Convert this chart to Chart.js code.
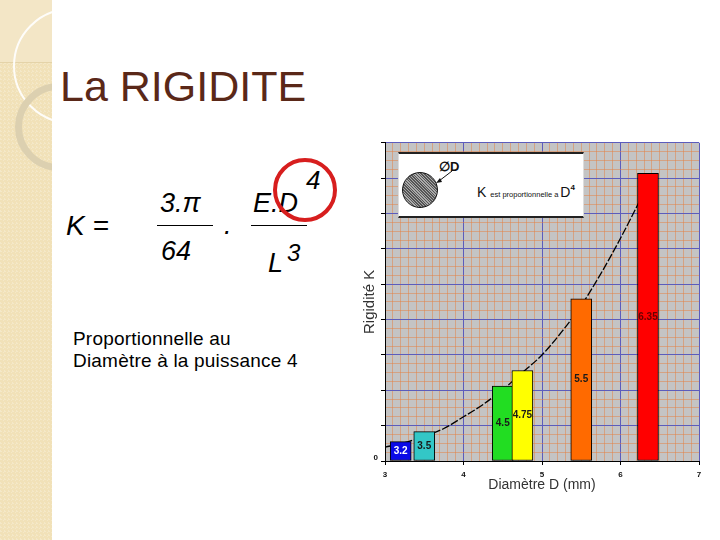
<!DOCTYPE html>
<html>
<head>
<meta charset="utf-8">
<script src="https://cdn.jsdelivr.net/npm/chart.js@4.4.1/dist/chart.umd.min.js"></script>
<style>
    html, body { margin: 0; padding: 0; }
    body { width: 720px; height: 540px; position: relative; overflow: hidden; background: #fff; font-family: "Liberation Sans", Arial, sans-serif; }
    .stripe { position: absolute; left: 0; top: 0; width: 52px; height: 540px; overflow: hidden;
        background-color: #f1e1b8;
        background-image: linear-gradient(45deg, rgba(255,255,255,.22) 25%, transparent 25%, transparent 75%, rgba(255,255,255,.22) 75%);
        background-size: 4px 4px; }
    .stripe .corner { position: absolute; left: 0; top: 0; width: 52px; height: 62px; background: #f3e6c6; border-bottom: 1px solid #e4d3a8; }
    .stripe .ring1 { position: absolute; left: 13px; top: 8px; width: 116px; height: 116px; border-radius: 50%; border: 2px solid rgba(255,255,255,.9); box-sizing: border-box; }
    .stripe .ring2 { position: absolute; left: 15px; top: 83px; width: 88px; height: 88px; border-radius: 50%; border: 7px solid #dcd0b0; box-sizing: border-box; }
    .abs { position: absolute; line-height: 1; white-space: nowrap; }
    .title { left: 60px; top: 65px; font-size: 43px; color: #5a2818; }
    .f { font-style: italic; font-size: 27px; color: #000; }
    .bar { position: absolute; height: 1px; background: #000; }
    .circle { position: absolute; left: 273px; top: 158px; width: 64px; height: 64px; border: 4px solid #d71e1e; border-radius: 50%; box-sizing: border-box; }
    .para { left: 73px; font-size: 19px; color: #000; letter-spacing: 0.2px; }
    #chartBox { position: absolute; left: 355px; top: 135px; width: 355px; height: 365px; }
    .inset { position: absolute; left: 398px; top: 152px; width: 186px; height: 66px; background: #fff; box-sizing: border-box;
        border-top: 2px solid #222; border-bottom: 2px solid #222; border-left: 1px solid #ddd; border-right: 1px solid #ddd; }
    .hatch { position: absolute; left: 402px; top: 172px; width: 36px; height: 36px; border-radius: 50%; border: 1.5px solid #111; box-sizing: border-box;
        background: repeating-linear-gradient(45deg, #555 0 1px, #aaa 1px 2px); }
</style>
</head>
<body>
<div class="stripe"><div class="corner"></div><div class="ring1"></div><div class="ring2"></div></div>

<div class="abs title">La RIGIDITE</div>

<div class="abs f" style="left:66px; top:212px; font-size:28px;">K =</div>
<div class="abs f" style="left:160px; top:190px;">3.π</div>
<div class="bar" style="left:157px; top:225px; width:56px;"></div>
<div class="abs f" style="left:161px; top:238px;">64</div>
<div class="abs f" style="left:224px; top:212px;">.</div>
<div class="abs f" style="left:253px; top:190px;">E.D</div>
<div class="abs f" style="left:306px; top:167px; font-size:26px;">4</div>
<div class="bar" style="left:251px; top:225px; width:56px;"></div>
<div class="abs f" style="left:268px; top:250px;">L</div>
<div class="abs f" style="left:287px; top:241px; font-size:24px;">3</div>
<div class="circle"></div>

<div class="abs para" style="top:329px;">Proportionnelle au</div>
<div class="abs para" style="top:351px;">Diamètre à la puissance 4</div>

<div id="chartBox"><canvas id="rigidityChart"></canvas></div>

<div class="inset"></div>
<div class="hatch"></div>
<div class="abs" style="left:439px; top:160px; font-size:13px; font-weight:bold; color:#111;">∅D</div>
<svg class="abs" style="left:430px; top:168px;" width="26" height="20">
    <line x1="22" y1="3" x2="9" y2="13" stroke="#111" stroke-width="1"/>
    <polygon points="6,15 10,10 12,14" fill="#111"/>
</svg>
<div class="abs" style="left:477px; top:185px; color:#111; line-height:14px;">
    <span style="font-size:14px;">K</span><span style="font-size:7.5px; margin:0 2px 0 4px;">est proportionnelle a</span><span style="font-size:14px;">D</span><span style="font-size:8px; font-weight:bold; position:relative; top:-7px;">4</span>
</div>

<script>
// bar data (diameter in mm, rigidity in grid units)
const diameters = [3.2, 3.5, 4.5, 4.75, 5.5, 6.35];
const rigidity = [0.55, 0.83, 2.12, 2.56, 4.59, 8.14];
const barLabels = ['3.2', '3.5', '4.5', '4.75', '5.5', '6.35'];
const barColors = ['#0a0ae6', '#33c7c7', '#22dd22', '#ffff00', '#ff6a00', '#ff0000'];
const labelColors = ['#ffffff', '#1a1a1a', '#1a1a1a', '#1a1a1a', '#1a1a1a', '#6a0000'];

// K ~ D^4 curve
const curveD = [3.0, 3.25, 3.5, 3.75, 4.0, 4.25, 4.5, 4.75, 5.0, 5.25, 5.5, 5.75, 6.0, 6.3];
const curveK = [0.39, 0.52, 0.70, 0.92, 1.25, 1.60, 2.02, 2.50, 3.00, 3.65, 4.40, 5.30, 6.30, 7.60];

const xTickLabels = ['3', '4', '5', '6', '7'];
const yTickLabels = ['0'];

const BLUE = '#5c5cbc';
const ORANGE = 'rgba(228, 128, 66, 0.5)';

function isMajor(v) {
    return Math.abs(v - Math.round(v)) < 1e-6;
}

// gray graph-paper background behind the grid
const plotBackground = {
    id: 'plotBackground',
    beforeDraw(chart) {
        const {ctx, chartArea} = chart;
        ctx.save();
        ctx.fillStyle = '#c4c4c4';
        ctx.fillRect(chartArea.left, chartArea.top, chartArea.right - chartArea.left, chartArea.bottom - chartArea.top);
        ctx.restore();
    }
};

// value written in the middle of each bar
const barValueLabels = {
    id: 'barValueLabels',
    afterDatasetsDraw(chart) {
        const {ctx} = chart;
        const meta = chart.getDatasetMeta(0);
        ctx.save();
        ctx.font = 'bold 10px "Liberation Sans", Arial, sans-serif';
        ctx.textAlign = 'center';
        ctx.textBaseline = 'middle';
        meta.data.forEach((bar, i) => {
            ctx.fillStyle = labelColors[i];
            ctx.fillText(barLabels[i], bar.x, (bar.y + bar.base) / 2);
        });
        ctx.restore();
    }
};

const ctx = document.getElementById('rigidityChart');
new Chart(ctx, {
    type: 'bar',
    data: {
        datasets: [{
            type: 'bar',
            data: diameters.map((d, i) => ({x: d, y: rigidity[i]})),
            backgroundColor: barColors,
            borderColor: '#000',
            borderWidth: 1,
            borderSkipped: false,
            barThickness: 21,
            order: 1
        }, {
            type: 'line',
            data: curveD.map((d, i) => ({x: d, y: curveK[i]})),
            borderColor: '#000',
            borderWidth: 1.3,
            borderDash: [8, 2],
            pointRadius: 0,
            fill: false,
            cubicInterpolationMode: 'monotone',
            order: 2
        }]
    },
    options: {
        responsive: true,
        maintainAspectRatio: false,
        animation: false,
        layout: { padding: { top: 6, right: 11, left: 0, bottom: 0 } },
        plugins: {
            legend: { display: false },
            tooltip: { enabled: false }
        },
        scales: {
            x: {
                type: 'linear',
                min: 3,
                max: 7,
                offset: false,
                ticks: {
                    stepSize: 0.1,
                    autoSkip: false,
                    maxRotation: 0,
                    padding: 5,
                    color: '#111',
                    font: { size: 8, weight: 'bold', family: '"Liberation Sans", Arial' },
                    callback: v => {
                        const s = String(Math.round(v));
                        return isMajor(v) && xTickLabels.includes(s) ? s : '';
                    }
                },
                grid: {
                    offset: false,
                    lineWidth: 1,
                    tickLength: 4,
                    color: c => (c.tick && isMajor(c.tick.value)) ? BLUE : ORANGE,
                    tickColor: c => (c.tick && isMajor(c.tick.value)) ? '#000' : 'rgba(0,0,0,0)'
                },
                border: { color: '#000', width: 1 },
                title: {
                    display: true,
                    text: 'Diamètre D (mm)',
                    color: '#333',
                    font: { size: 14, family: '"Liberation Sans", Arial' },
                    padding: { top: 0, bottom: 6 }
                },
                afterFit: s => { s.height = 39; }
            },
            y: {
                min: 0,
                max: 9,
                ticks: {
                    stepSize: 0.25,
                    autoSkip: false,
                    padding: 3,
                    labelOffset: -3,
                    color: '#111',
                    font: { size: 8, weight: 'bold', family: '"Liberation Sans", Arial' },
                    callback: v => (v === 0 ? yTickLabels[0] : '')
                },
                grid: {
                    lineWidth: 1,
                    tickLength: 4,
                    color: c => (c.tick && isMajor(c.tick.value)) ? BLUE : ORANGE,
                    tickColor: c => (c.tick && isMajor(c.tick.value)) ? '#000' : 'rgba(0,0,0,0)'
                },
                border: { color: '#000', width: 1 },
                title: {
                    display: true,
                    text: 'Rigidité K',
                    color: '#333',
                    font: { size: 15, family: '"Liberation Sans", Arial' },
                    padding: { top: 6, bottom: 0 }
                },
                afterFit: s => { s.width = 30; }
            }
        }
    },
    plugins: [plotBackground, barValueLabels]
});
</script>
</body>
</html>
